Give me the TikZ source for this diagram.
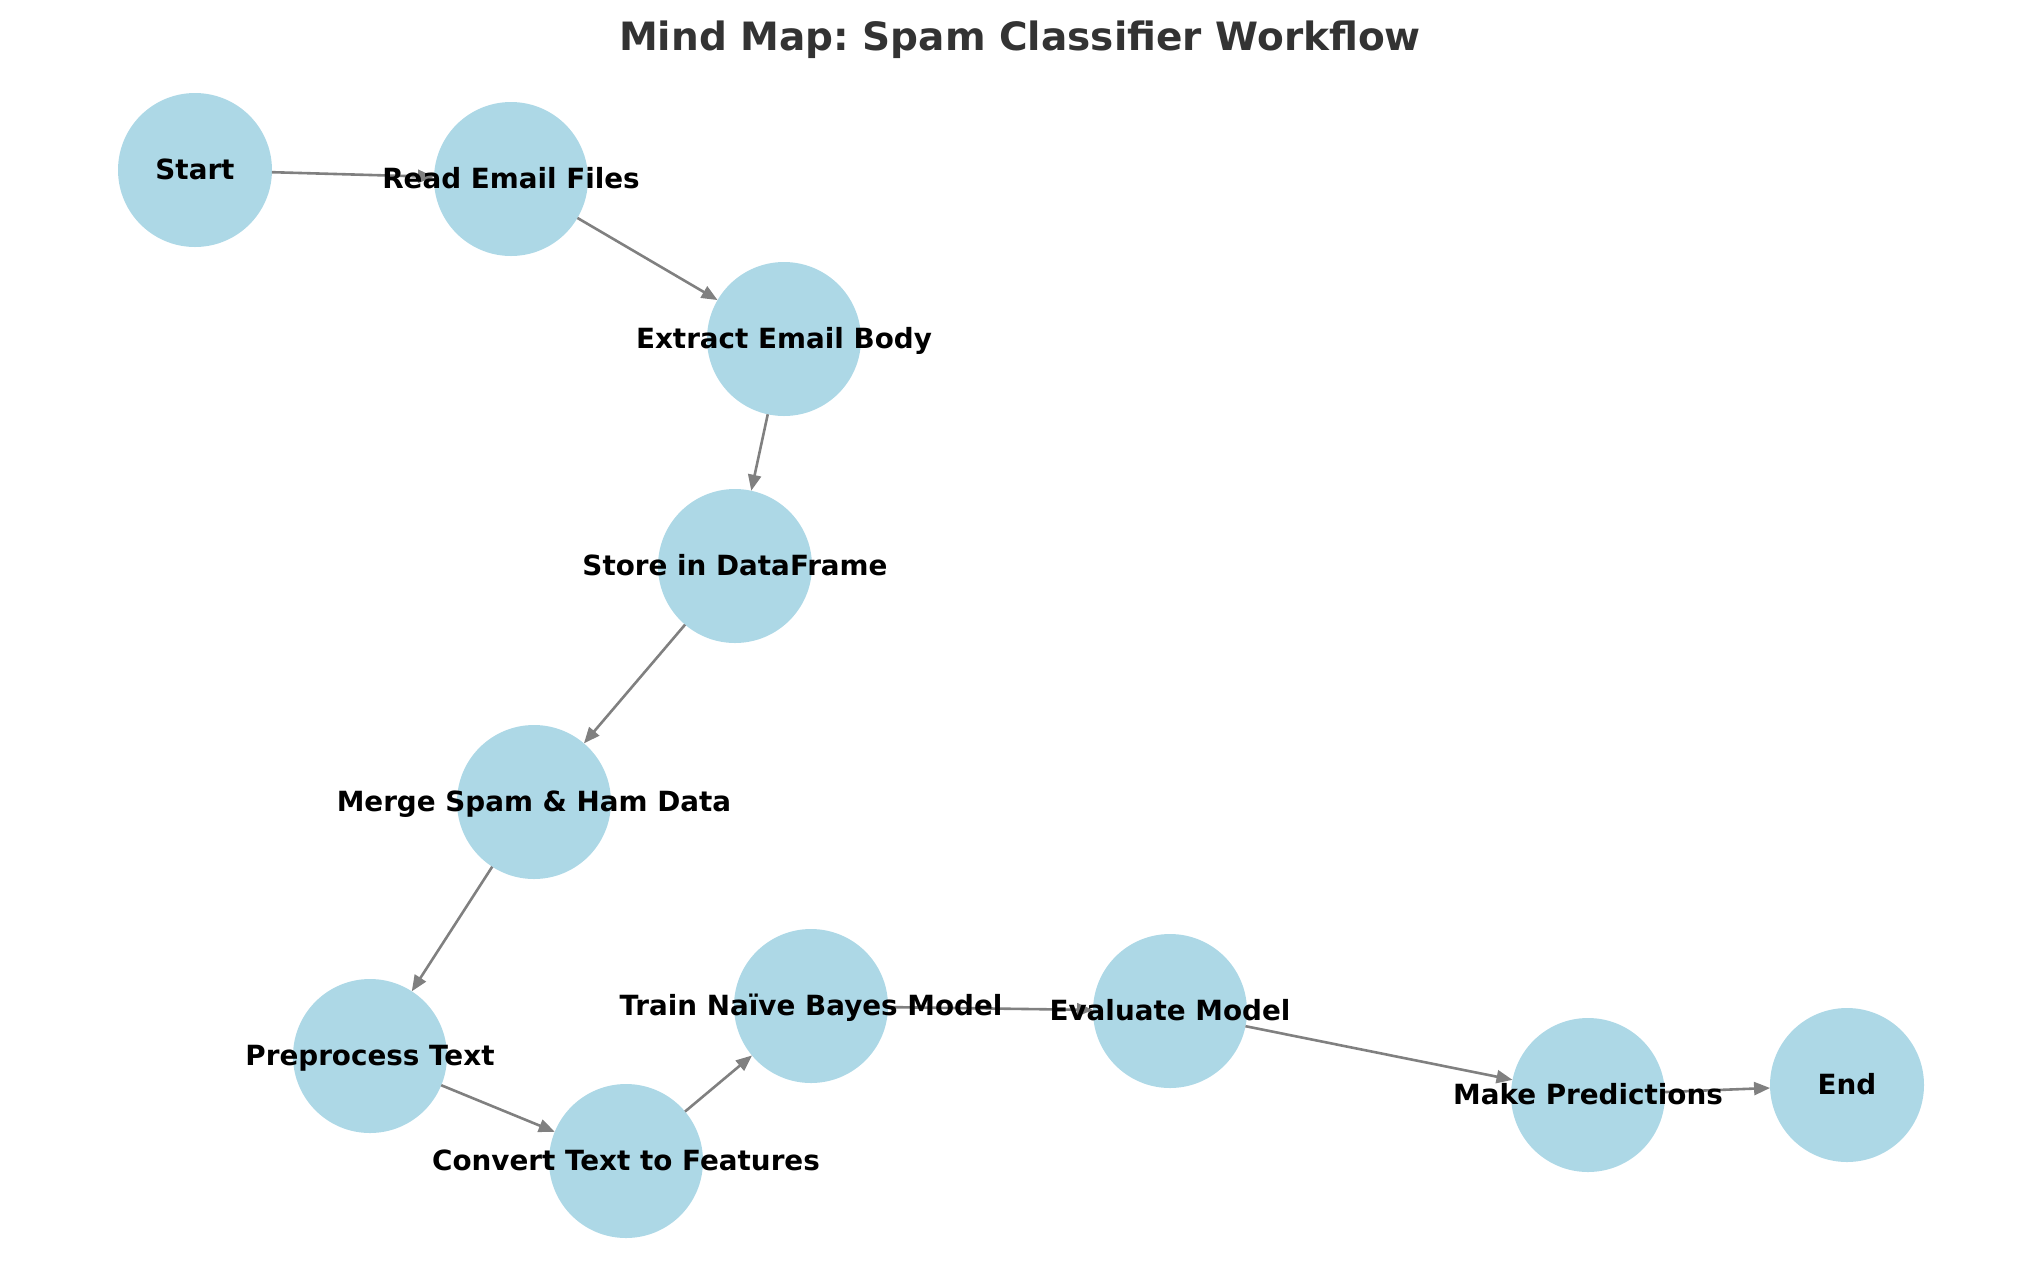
\documentclass[tikz,border=0pt]{standalone}
\usepackage{fontspec}
\setmainfont{DejaVu Sans}
\usetikzlibrary{arrows.meta}
\definecolor{nodeblue}{HTML}{ADD8E6}
\definecolor{edgegray}{HTML}{808080}
\definecolor{titlegray}{HTML}{333333}
\begin{document}
\frenchspacing
\begin{tikzpicture}[x=1pt,y=-1pt,
  bubble/.style={circle,fill=nodeblue,draw=none,minimum size=154pt,inner sep=0pt,outer sep=0pt},
  lbl/.style={anchor=base,inner sep=0pt,font=\fontsize{27.8}{34}\selectfont\bfseries,text=black},
  flow/.style={draw=edgegray,line width=2.6pt,-{Triangle[length=16pt,width=13pt]}}]
\useasboundingbox (0,0) rectangle (2039,1286);
\node[anchor=base,inner sep=0pt,font=\fontsize{39}{47}\selectfont\bfseries,text=titlegray] (title) at (1020,50) {Mind Map: Spam Classifier Workflow};
% circles
\node[bubble] (start) at (195,170) {};
\node[bubble] (read) at (511,179) {};
\node[bubble] (extract) at (784,339) {};
\node[bubble] (store) at (735,566) {};
\node[bubble] (merge) at (534,802) {};
\node[bubble] (prep) at (370,1056) {};
\node[bubble] (conv) at (626,1161) {};
\node[bubble] (train) at (811,1006) {};
\node[bubble] (eval) at (1170,1011) {};
\node[bubble] (pred) at (1588,1095) {};
\node[bubble] (end) at (1847,1085) {};
% edges
\draw[flow] (start) -- (read);
\draw[flow] (read) -- (extract);
\draw[flow] (extract) -- (store);
\draw[flow] (store) -- (merge);
\draw[flow] (merge) -- (prep);
\draw[flow] (prep) -- (conv);
\draw[flow] (conv) -- (train);
\draw[flow] (train) -- (eval);
\draw[flow] (eval) -- (pred);
\draw[flow] (pred) -- (end);
% labels
\node[lbl] (lstart) at ([yshift=-9pt]start.center) {Start};
\node[lbl] (lread) at ([yshift=-9pt]read.center) {Read Email Files};
\node[lbl] (lextract) at ([yshift=-9pt]extract.center) {Extract Email Body};
\node[lbl] (lstore) at ([yshift=-9pt]store.center) {Store in DataFrame};
\node[lbl] (lmerge) at ([yshift=-9pt]merge.center) {Merge Spam \& Ham Data};
\node[lbl] (lprep) at ([yshift=-9pt]prep.center) {Preprocess Text};
\node[lbl] (lconv) at ([yshift=-9pt]conv.center) {Convert Text to Features};
\node[lbl] (ltrain) at ([yshift=-9pt]train.center) {Train Naïve Bayes Model};
\node[lbl] (leval) at ([yshift=-9pt]eval.center) {Evaluate Model};
\node[lbl] (lpred) at ([yshift=-9pt]pred.center) {Make Predictions};
\node[lbl] (lend) at ([yshift=-9pt]end.center) {End};
\end{tikzpicture}
\end{document}
